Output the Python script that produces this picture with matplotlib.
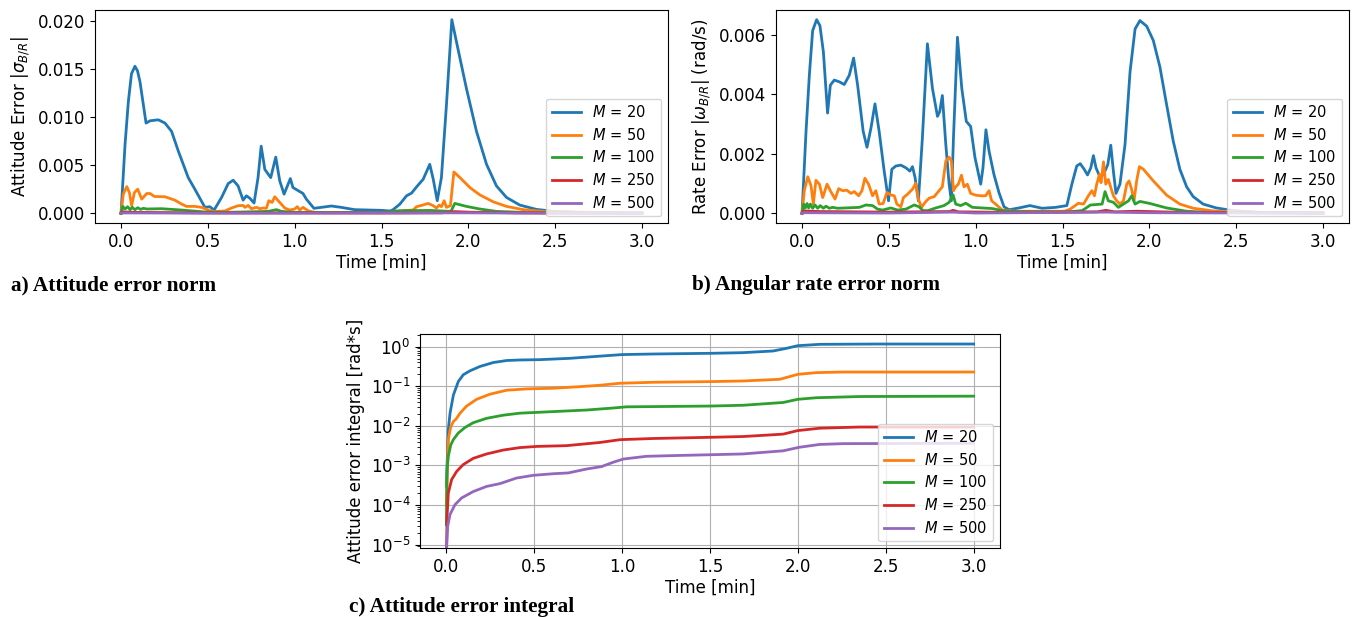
import matplotlib
matplotlib.use("Agg")
import matplotlib.pyplot as plt

labels = [r"$M$ = 20", r"$M$ = 50", r"$M$ = 100", r"$M$ = 250", r"$M$ = 500"]
x_ticks = [0.0, 0.5, 1.0, 1.5, 2.0, 2.5, 3.0]

# ---------------- a) attitude error norm ----------------
a_t20 = [0, 0.023, 0.042, 0.060, 0.080, 0.095, 0.109, 0.144, 0.167, 0.215, 0.253, 0.291, 0.330, 0.387, 0.425, 0.483,
         0.511, 0.536, 0.579, 0.617, 0.646, 0.674, 0.703, 0.722, 0.741, 0.766, 0.789, 0.807, 0.828, 0.862,
         0.891, 0.914, 0.939, 0.975, 0.990, 1.048, 1.067, 1.111, 1.153, 1.211, 1.268, 1.345, 1.498, 1.55,
         1.567, 1.606, 1.644, 1.673, 1.702, 1.740, 1.778, 1.798, 1.821, 1.845, 1.874, 1.905, 1.932, 1.989,
         2.047, 2.105, 2.162, 2.22, 2.296, 2.392, 2.489, 2.642, 3.0]
a_v20 = [0, 0.00715, 0.0116, 0.0145, 0.01529, 0.0148, 0.01368, 0.00938, 0.00962, 0.00972, 0.00938, 0.00852, 0.00646,
         0.00371, 0.00251, 0.00062, 0.00069, 0.00034, 0.00165, 0.00309, 0.00344, 0.00285, 0.00137, 0.00182,
         0.00158, 0.00107, 0.00371, 0.00698, 0.00457, 0.00371, 0.00584, 0.00337, 0.00199, 0.00361, 0.00268,
         0.00206, 0.00148, 0.00052, 0.00062, 0.00076, 0.00062, 0.00038, 0.00031, 0.00024, 0.00038, 0.00096,
         0.00182, 0.0021, 0.00275, 0.00354, 0.00509, 0.00354, 0.00131, 0.00371, 0.01127, 0.02013, 0.0178,
         0.01299, 0.00852, 0.00509, 0.00285, 0.00165, 0.00086, 0.00041, 0.00021, 0.0001, 0.00003]

a_t50 = [0, 0.013, 0.033, 0.048, 0.061, 0.077, 0.096, 0.119, 0.148, 0.167, 0.192, 0.253, 0.31, 0.349,
         0.377, 0.425, 0.464, 0.511, 0.54, 0.598, 0.636, 0.674, 0.703, 0.713, 0.732, 0.751, 0.780, 0.799,
         0.818, 0.837, 0.851, 0.870, 0.885, 0.914, 0.943, 0.971, 1.0, 1.015, 1.029, 1.048, 1.077, 1.115,
         1.5, 1.6, 1.625, 1.682, 1.702, 1.73, 1.769, 1.798, 1.817, 1.832, 1.845, 1.861, 1.874, 1.897, 1.917,
         1.952, 2.009, 2.066, 2.143, 2.22, 2.316, 2.45, 3.0]
a_v50 = [0, 0.002, 0.00278, 0.00216, 0.00079, 0.00216, 0.00251, 0.00148, 0.00206, 0.00206, 0.00175,
         0.00172, 0.00137, 0.00096, 0.00072, 0.00072, 0.00062, 0.00027, 0.0002, 0.00024, 0.00055, 0.00079,
         0.00082, 0.00062, 0.00082, 0.00048, 0.00062, 0.00048, 0.00055, 0.00052, 0.00131, 0.00113, 0.00172,
         0.00113, 0.00055, 0.00034, 0.00045, 0.00069, 0.00034, 0.00062, 0.00027, 0.0001, 0.00007, 0.0001,
         0.00027, 0.00034, 0.00069, 0.00082, 0.00103, 0.00079, 0.00055, 0.00086, 0.00069, 0.00131, 0.00062,
         0.00079, 0.0043, 0.00371, 0.00268, 0.00192, 0.0012, 0.00072, 0.00038, 0.00017, 0.00003]

a_t100 = [0, 0.010, 0.023, 0.038, 0.052, 0.065, 0.080, 0.096, 0.113, 0.128, 0.148, 0.234, 0.349, 0.483,
          0.617, 0.847, 0.895, 0.924, 1.0, 1.5, 1.6, 1.78, 1.90, 1.922, 1.989, 2.066, 2.162, 2.354, 3.0]
a_v100 = [0, 0.00072, 0.00045, 0.00069, 0.00038, 0.00062, 0.00038, 0.00058, 0.00041, 0.00052, 0.00045,
          0.00048, 0.00034, 0.00014, 0.00010, 0.0002, 0.00038, 0.0002, 0.0001, 0.00007, 0.00027, 0.0003,
          0.0002, 0.00103, 0.00072, 0.00045, 0.0002, 0.00007, 0.00002]

a_t250 = [0, 0.01, 0.05, 0.1, 0.5, 1.0, 1.5, 1.85, 1.92, 2.0, 2.3, 3.0]
a_v250 = [0, 0.00015, 0.00012, 0.0001, 0.00004, 0.00004, 0.00003, 0.00005, 0.00018, 0.00012, 0.00004, 0.00001]

a_t500 = [0, 0.01, 0.5, 1.0, 1.92, 2.5, 3.0]
a_v500 = [0, 0.00004, 0.00002, 0.00002, 0.00005, 0.00002, 0.00001]

# ---------------- b) angular rate error norm ----------------
b_t20 = [0, 0.023, 0.042, 0.061, 0.084, 0.103, 0.123, 0.147, 0.163, 0.186, 0.215, 0.243, 0.272, 0.297,
         0.320, 0.352, 0.374, 0.397, 0.42, 0.444, 0.473, 0.498, 0.517, 0.540, 0.569, 0.598, 0.621, 0.636,
         0.651, 0.670, 0.693, 0.722, 0.751, 0.780, 0.793, 0.808, 0.828, 0.847, 0.860, 0.872, 0.895, 0.920,
         0.946, 0.971, 0.996, 1.029, 1.042, 1.059, 1.077, 1.105, 1.134, 1.163, 1.192, 1.249, 1.312, 1.383,
         1.46, 1.525, 1.554, 1.582, 1.602, 1.625, 1.644, 1.663, 1.678, 1.693, 1.716, 1.736, 1.761, 1.778,
         1.793, 1.808, 1.831, 1.860, 1.889, 1.918, 1.946, 1.985, 2.023, 2.061, 2.1, 2.138, 2.176, 2.215,
         2.253, 2.31, 2.387, 2.483, 2.636, 3.0]
b_v20 = [0, 0.00276, 0.00464, 0.00614, 0.00651, 0.00631, 0.00542, 0.00337, 0.00431, 0.00448, 0.00442,
         0.00433, 0.00464, 0.00522, 0.00431, 0.00276, 0.00222, 0.00287, 0.00368, 0.00276, 0.00142, 0.00042,
         0.00148, 0.00159, 0.00162, 0.00153, 0.00142, 0.00157, 0.0012, 0.00042, 0.00253, 0.0057, 0.0042,
         0.00326, 0.00342, 0.00396, 0.00231, 0.00098, 0.00042, 0.00253, 0.00592, 0.0042, 0.00309, 0.00292,
         0.00187, 0.00098, 0.00153, 0.00281, 0.00209, 0.00131, 0.0007, 0.00022, 0.00012, 0.00018, 0.00026,
         0.00017, 0.0002, 0.00026, 0.00098, 0.00159, 0.00167, 0.00148, 0.00129, 0.00153, 0.00194, 0.00153,
         0.00122, 0.00131, 0.00164, 0.00229, 0.00142, 0.00067, 0.00098, 0.00231, 0.00476, 0.0062, 0.00648,
         0.00629, 0.00581, 0.00492, 0.00364, 0.00242, 0.00148, 0.00089, 0.00056, 0.00031, 0.00018, 0.00009,
         0.00003, 0.00001]

b_t50 = [0, 0.013, 0.033, 0.052, 0.065, 0.080, 0.100, 0.119, 0.144, 0.163, 0.190, 0.211, 0.234, 0.257,
         0.282, 0.301, 0.326, 0.345, 0.362, 0.383, 0.406, 0.425, 0.444, 0.467, 0.489, 0.511, 0.531, 0.546,
         0.569, 0.584, 0.607, 0.636, 0.655, 0.670, 0.688, 0.709, 0.732, 0.761, 0.789, 0.808, 0.828, 0.847,
         0.860, 0.872, 0.885, 0.9, 0.918, 0.933, 0.952, 0.971, 1.0, 1.029, 1.057, 1.077, 1.092, 1.115, 1.153,
         1.23, 1.513, 1.544, 1.573, 1.592, 1.621, 1.649, 1.669, 1.684, 1.697, 1.713, 1.722, 1.736, 1.749,
         1.764, 1.778, 1.793, 1.812, 1.831, 1.851, 1.870, 1.883, 1.898, 1.912, 1.927, 1.943, 1.966, 2.023,
         2.1, 2.176, 2.253, 2.368, 2.636, 3.0]
b_v50 = [0, 0.00076, 0.00123, 0.00092, 0.00031, 0.00111, 0.00098, 0.00053, 0.00098, 0.00076, 0.00048,
         0.00083, 0.00076, 0.00078, 0.00067, 0.00073, 0.00059, 0.00076, 0.00118, 0.00098, 0.00059, 0.00076,
         0.00031, 0.00033, 0.0007, 0.00062, 0.00059, 0.00031, 0.00022, 0.00053, 0.00064, 0.00081, 0.00101,
         0.00048, 0.0002, 0.00037, 0.00051, 0.00056, 0.00076, 0.00089, 0.00176, 0.00189, 0.00176, 0.00076,
         0.00089, 0.00098, 0.00128, 0.00089, 0.00098, 0.00067, 0.00061, 0.00059, 0.00059, 0.00076, 0.00042,
         0.00031, 0.00011, 0.00007, 0.00007, 0.00014, 0.00026, 0.00034, 0.00031, 0.00059, 0.00076, 0.00059,
         0.00098, 0.00131, 0.00103, 0.00173, 0.00098, 0.00114, 0.00087, 0.00059, 0.00042, 0.00031, 0.00042,
         0.00098, 0.00109, 0.00081, 0.00042, 0.00109, 0.00157, 0.00148, 0.00109, 0.00061, 0.00031, 0.00017,
         0.00008, 0.00003, 0.00001]

b_t100 = [0, 0.010, 0.019, 0.029, 0.038, 0.048, 0.061, 0.075, 0.090, 0.105, 0.123, 0.138, 0.157, 0.176,
          0.205, 0.330, 0.368, 0.406, 0.435, 0.464, 0.511, 0.550, 0.598, 0.646, 0.674, 0.696, 0.725, 0.770,
          0.818, 0.847, 0.870, 0.885, 0.914, 0.943, 0.981, 1.038, 1.096, 1.153, 1.230, 1.5, 1.556, 1.613,
          1.661, 1.728, 1.745, 1.764, 1.793, 1.822, 1.851, 1.880, 1.899, 1.918, 1.946, 2.004, 2.100, 2.215,
          2.349, 3.0]
b_v100 = [0, 0.00031, 0.00018, 0.00033, 0.00018, 0.00031, 0.00017, 0.00028, 0.00017, 0.00026, 0.00017,
          0.00024, 0.00017, 0.00020, 0.00017, 0.00020, 0.00028, 0.00026, 0.00014, 0.00011, 0.00018, 0.00011,
          0.00014, 0.00028, 0.00022, 0.00009, 0.00009, 0.00018, 0.00026, 0.00037, 0.00062, 0.00031, 0.00026,
          0.00034, 0.0002, 0.00018, 0.00016, 0.00009, 0.00006, 0.00004, 0.00006, 0.00009, 0.00028, 0.00031,
          0.00073, 0.00042, 0.00037, 0.0002, 0.00031, 0.00042, 0.00059, 0.00031, 0.0004, 0.00033, 0.00018,
          0.00007, 0.00003, 0.00001]

b_t250 = [0, 0.01, 0.1, 0.5, 0.85, 0.87, 0.9, 1.2, 1.7, 1.75, 1.8, 1.93, 2.2, 3.0]
b_v250 = [0, 0.00008, 0.00006, 0.00004, 0.00006, 0.0001, 0.00005, 0.00003, 0.00005, 0.0001, 0.00005,
          0.00007, 0.00003, 0.00001]

b_t500 = [0, 0.01, 0.5, 0.87, 1.0, 1.75, 2.0, 3.0]
b_v500 = [0, 0.00002, 0.00001, 0.00004, 0.00001, 0.00004, 0.00002, 0.000005]

# ---------------- c) attitude error integral ----------------
c_t20 = [0.002, 0.013, 0.023, 0.042, 0.07, 0.098, 0.136, 0.193, 0.269, 0.345, 0.42, 0.534, 0.705, 0.837,
         1.0, 1.178, 1.5, 1.689, 1.86, 1.936, 2.0, 2.125, 2.447, 3.0]
c_v20 = [3e-4, 7.9e-3, 0.021, 0.060, 0.132, 0.195, 0.245, 0.316, 0.398, 0.447, 0.461, 0.470, 0.508, 0.560,
         0.631, 0.653, 0.679, 0.706, 0.778, 0.908, 1.059, 1.146, 1.167, 1.167]

c_t50 = [0.002, 0.013, 0.027, 0.042, 0.057, 0.08, 0.117, 0.174, 0.25, 0.345, 0.458, 0.61, 0.761, 0.875,
         0.989, 1.178, 1.5, 1.689, 1.898, 2.0, 2.106, 2.258, 3.0]
c_v50 = [1e-4, 4.5e-3, 9.5e-3, 0.0129, 0.0148, 0.0209, 0.0316, 0.0468, 0.0631, 0.0794, 0.0857, 0.0891,
         0.0977, 0.106, 0.119, 0.126, 0.131, 0.136, 0.150, 0.200, 0.221, 0.229, 0.229]

c_t100 = [0.002, 0.006, 0.013, 0.027, 0.042, 0.07, 0.108, 0.155, 0.231, 0.326, 0.42, 0.61, 0.8, 0.95,
          1.026, 1.5, 1.689, 1.917, 2.0, 2.106, 2.352, 3.0]
c_v100 = [3.2e-5, 7.9e-4, 1.7e-3, 3.3e-3, 4.5e-3, 6.6e-3, 9.1e-3, 0.0120, 0.0155, 0.0186, 0.0209, 0.0229,
          0.0251, 0.0282, 0.0302, 0.0316, 0.0331, 0.0389, 0.0468, 0.0513, 0.0550, 0.0562]

c_t250 = [0.002, 0.006, 0.013, 0.032, 0.061, 0.098, 0.155, 0.231, 0.326, 0.42, 0.515, 0.686, 0.875, 0.989,
          1.178, 1.5, 1.689, 1.917, 2.0, 2.125, 2.352, 3.0]
c_v250 = [3.2e-6, 5.1e-5, 2.0e-4, 4.4e-4, 7.1e-4, 1.05e-3, 1.51e-3, 1.95e-3, 2.45e-3, 2.82e-3, 3.02e-3,
          3.16e-3, 3.8e-3, 4.47e-3, 4.79e-3, 5.13e-3, 5.37e-3, 6.17e-3, 7.59e-3, 8.71e-3, 9.33e-3, 9.33e-3]

c_t500 = [0.002, 0.004, 0.0095, 0.023, 0.051, 0.089, 0.155, 0.231, 0.307, 0.40, 0.496, 0.61, 0.695, 0.80,
          0.884, 0.95, 1.008, 1.14, 1.311, 1.5, 1.689, 1.917, 2.01, 2.125, 2.258, 3.0]
c_v500 = [1e-6, 1e-5, 2.9e-5, 5.8e-5, 1.02e-4, 1.51e-4, 2.19e-4, 2.95e-4, 3.47e-4, 4.79e-4, 5.62e-4,
          6.17e-4, 6.46e-4, 8.13e-4, 9.33e-4, 1.20e-3, 1.45e-3, 1.70e-3, 1.78e-3, 1.86e-3, 1.95e-3, 2.34e-3,
          2.88e-3, 3.39e-3, 3.55e-3, 3.63e-3]

captions = ["a) Attitude error norm", "b) Angular rate error norm", "c) Attitude error integral"]

W, H = 1365, 617
plt.rcParams['font.family'] = ['DejaVu Sans']
plt.rcParams['mathtext.fontset'] = 'dejavusans'
plt.rcParams['font.size'] = 12
plt.rcParams['lines.linewidth'] = 2.0
plt.rcParams['lines.solid_joinstyle'] = 'round'
fig = plt.figure(figsize=(W / 100, H / 100), dpi=100)


def px_axes(left, top, right, bottom):
    return fig.add_axes([left / W, 1 - bottom / H, (right - left) / W, (bottom - top) / H])


colors = ["C0", "C1", "C2", "C3", "C4"]
leg_kw = dict(loc="lower right", fontsize=10.5, borderaxespad=0.45, labelspacing=0.45)

# a)
axa = px_axes(95, 10, 668, 223)
for t, v, c, l in zip([a_t20, a_t50, a_t100, a_t250, a_t500], [a_v20, a_v50, a_v100, a_v250, a_v500],
                      colors, labels):
    axa.plot(t, v, color=c, label=l)
axa.set_xticks(x_ticks)
axa.set_xlabel("Time [min]", labelpad=2)
axa.set_ylabel(r"Attitude Error $|\sigma_{B/R}|$")
axa.legend(**leg_kw)

# b)
axb = px_axes(776, 10, 1349, 223)
for t, v, c, l in zip([b_t20, b_t50, b_t100, b_t250, b_t500], [b_v20, b_v50, b_v100, b_v250, b_v500],
                      colors, labels):
    axb.plot(t, v, color=c, label=l)
axb.set_xticks(x_ticks)
axb.set_xlabel("Time [min]", labelpad=2)
axb.set_ylabel(r"Rate Error $|\omega_{B/R}|$ (rad/s)")
axb.legend(**leg_kw)

# c)
axc = px_axes(420, 334, 1000, 548)
for t, v, c, l in zip([c_t20, c_t50, c_t100, c_t250, c_t500], [c_v20, c_v50, c_v100, c_v250, c_v500],
                      colors, labels):
    axc.plot(t, v, color=c, label=l)
axc.set_yscale("log")
axc.set_ylim(8.2e-6, 2.09)
axc.set_xticks(x_ticks)
axc.grid(True)
axc.set_xlabel("Time [min]", labelpad=2)
axc.set_ylabel("Attitude error integral [rad*s]")
axc.legend(**leg_kw)

cap_font = dict(family="Liberation Serif", weight="bold", fontsize=15.3)
fig.text(11 / W, 1 - 290 / H, captions[0], ha="left", va="baseline", **cap_font)
fig.text(692 / W, 1 - 290 / H, captions[1], ha="left", va="baseline", **cap_font)
fig.text(349 / W, 1 - 612 / H, captions[2], ha="left", va="baseline", **cap_font)

fig.savefig("out.png", dpi=100)
